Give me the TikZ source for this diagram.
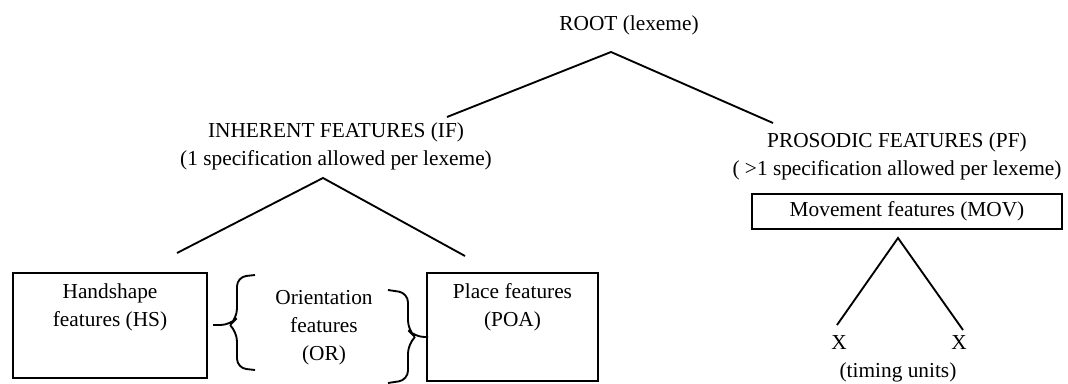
\documentclass[tikz,border=0pt]{standalone}
\usepackage{fontspec}
\setmainfont{Liberation Serif}
\begin{document}
\begin{tikzpicture}[x=0.75pt, y=-0.75pt, every node/.style={font=\fontsize{16}{21}\selectfont, align=center, inner sep=0pt}, box/.style={draw, line width=1.4pt}, branch/.style={line width=1.4pt}]
    \useasboundingbox (0,0) rectangle (1068,384);

    % Root and its two branches
    \node (root) at (629,25) {ROOT (lexeme)};
    \coordinate (rtop) at (611,52);
    \coordinate (rleft) at (447,117);
    \coordinate (rright) at (773,123);
    \draw[branch] (rleft) -- (rtop) -- (rright);

    % Inherent features
    \node (inh) at (336,146) {INHERENT FEATURES (IF)\\(1 specification allowed per lexeme)};
    \coordinate (itop) at (323,178);
    \coordinate (ileft) at (177,253);
    \coordinate (iright) at (465,256);
    \draw[branch] (ileft) -- (itop) -- (iright);

    \node[box, minimum width=145.5pt, minimum height=78.75pt] (hs) at (110,325.5) {};
    \node (hslabel) at (110,307) {Handshape\\features (HS)};
    \node[box, minimum width=128.25pt, minimum height=81pt] (poa) at (512.5,327) {};
    \node (poalabel) at (512.5,307) {Place features\\(POA)};
    \node (or) at (324,328) {Orientation\\features\\(OR)};

    % Braces round OR
    \draw[branch, rounded corners=7pt] (255,275) -- (237,277) -- (237,318) -- (230,325) -- (213,325);
    \draw[branch, rounded corners=7pt] (255,370) -- (237,368) -- (237,332) -- (230,325);
    \draw[branch, rounded corners=7pt] (388,290) -- (408,293) -- (408,330) -- (415,337) -- (428,337);
    \draw[branch, rounded corners=7pt] (388,383) -- (408,380) -- (408,344) -- (415,337);

    % Prosodic features
    \node (pros) at (897,156) {PROSODIC FEATURES (PF)\\( >1 specification allowed per lexeme)};
    \node[box, minimum width=232.5pt, minimum height=26.25pt] (mov) at (907,211.5) {Movement features (MOV)};
    \coordinate (mtop) at (898,238);
    \coordinate (mleft) at (837,325);
    \coordinate (mright) at (963,330);
    \draw[branch] (mleft) -- (mtop) -- (mright);
    \node (x1) at (839,343) {X};
    \node (x2) at (959,343) {X};
    \node (timing) at (898,372) {(timing units)};
\end{tikzpicture}
\end{document}
